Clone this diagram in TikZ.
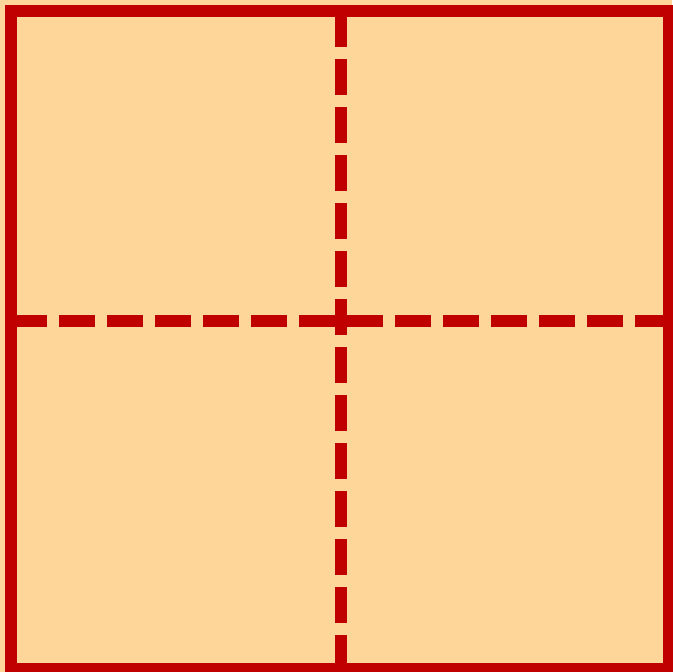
\documentclass[tikz,border=0pt]{standalone}
\usepackage{tikz}
\definecolor{paper}{HTML}{FFD699}
\definecolor{edge}{HTML}{C00000}
\tikzset{
    frame/.style={line width=12pt,edge,line join=miter},
    fold/.style={line width=12pt,edge,dash pattern=on 36pt off 12pt}
}
\begin{document}
\begin{tikzpicture}[x=1pt,y=-1pt]
        \fill[paper] (0,0) rectangle (672,672);
        \useasboundingbox (0,0) rectangle (672,672);
        \coordinate (TL) at (11,11);
        \coordinate (BR) at (669,669);
        \coordinate (T) at (340.5,11);
        \coordinate (B) at (340.5,669);
        \coordinate (L) at (11,321);
        \coordinate (R) at (669,321);
        \draw[fold] (L) -- (R);
        \draw[fold] (T) -- (B);
        \draw[frame] (TL) rectangle (BR);
    \end{tikzpicture}
\end{document}
